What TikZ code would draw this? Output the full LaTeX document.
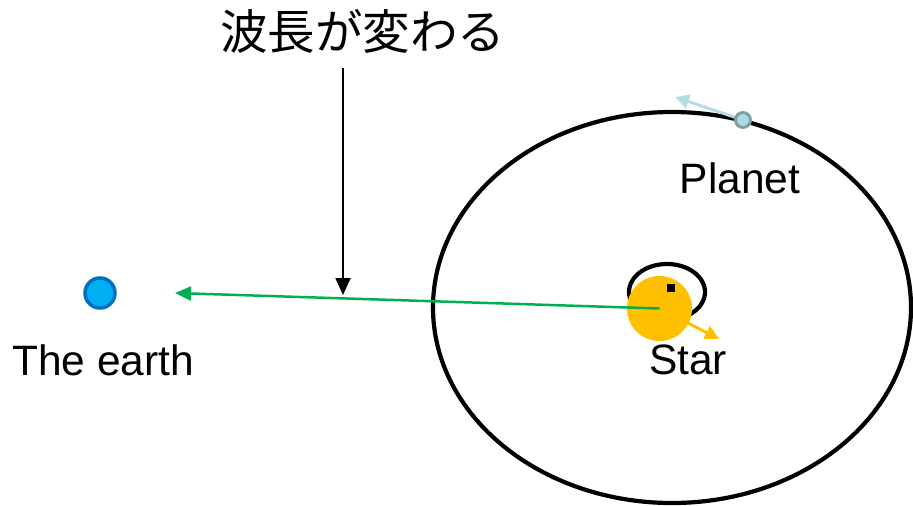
\documentclass[tikz,border=0pt]{standalone}
\usepackage{fontspec}
\setmainfont{Liberation Sans}
\newfontfamily\jpfont{Noto Sans CJK JP}
\usetikzlibrary{arrows.meta}
\definecolor{earthfill}{HTML}{00B0F0}
\definecolor{earthline}{HTML}{0070C0}
\definecolor{starfill}{HTML}{FFC000}
\definecolor{lightgreen}{HTML}{00B050}
\definecolor{planetfill}{HTML}{A9DCE0}
\definecolor{planetline}{HTML}{849FA3}
\definecolor{planetarrow}{HTML}{B4DEE4}
\tikzset{
  label text/.style={font=\fontsize{42.5}{48}\selectfont, inner sep=0pt, anchor=base},
  orbit/.style={draw=black, line width=4.2pt},
  motion/.style={line width=3pt, -{Triangle[length=14pt,width=14pt]}},
}
\begin{document}
\begin{tikzpicture}[x=1pt, y=-1pt]
\useasboundingbox (0,0) rectangle (913,506);

% planet orbit
\draw[orbit] (672,307.5) ellipse [x radius=239, y radius=195.5];
% reflex motion of the star
\draw[orbit] (667,292) ellipse [x radius=38, y radius=28];

% star
\node[circle, fill=starfill, minimum size=65pt, inner sep=0pt] (star) at (659.5,308.5) {};
\node[fill=black, minimum size=8pt, inner sep=0pt] (barycenter) at (671,288) {};
\coordinate (starvel) at (719,339);
\draw[starfill, motion, line width=3pt] (688,323) -- (starvel);

% earth
\node[circle, draw=earthline, line width=3.5pt, fill=earthfill, minimum size=30pt, inner sep=0pt] (earth) at (100,293) {};
\node[label text] (earthlabel) at (103,375) {The earth};

% light from the star to the earth
\coordinate (lighttip) at (175,293);
\draw[lightgreen, line width=2.5pt, -{Triangle[length=16pt,width=14pt]}] (star.center) -- (lighttip);

% planet
\coordinate (planetvel) at (675,97);
\node[circle, draw=planetline, line width=3pt, fill=planetfill, minimum size=15pt, inner sep=0pt] (planet) at (743,120) {};
\draw[planetarrow, motion] (planet) -- (planetvel);
\node[label text] (planetlabel) at (740,193) {Planet};
\node[label text] (starlabel) at (688,374) {Star};

% wavelength shift caption
\node[font=\jpfont\fontsize{47.5}{52}\selectfont, inner sep=0pt] (caption) at (362.5,31) {波長が変わる};
\coordinate (capfoot) at (343,68);
\coordinate (shiftpt) at (343,295);
\draw[black, line width=2pt, -{Triangle[length=17pt,width=15pt]}] (capfoot) -- (shiftpt);
\end{tikzpicture}
\end{document}
